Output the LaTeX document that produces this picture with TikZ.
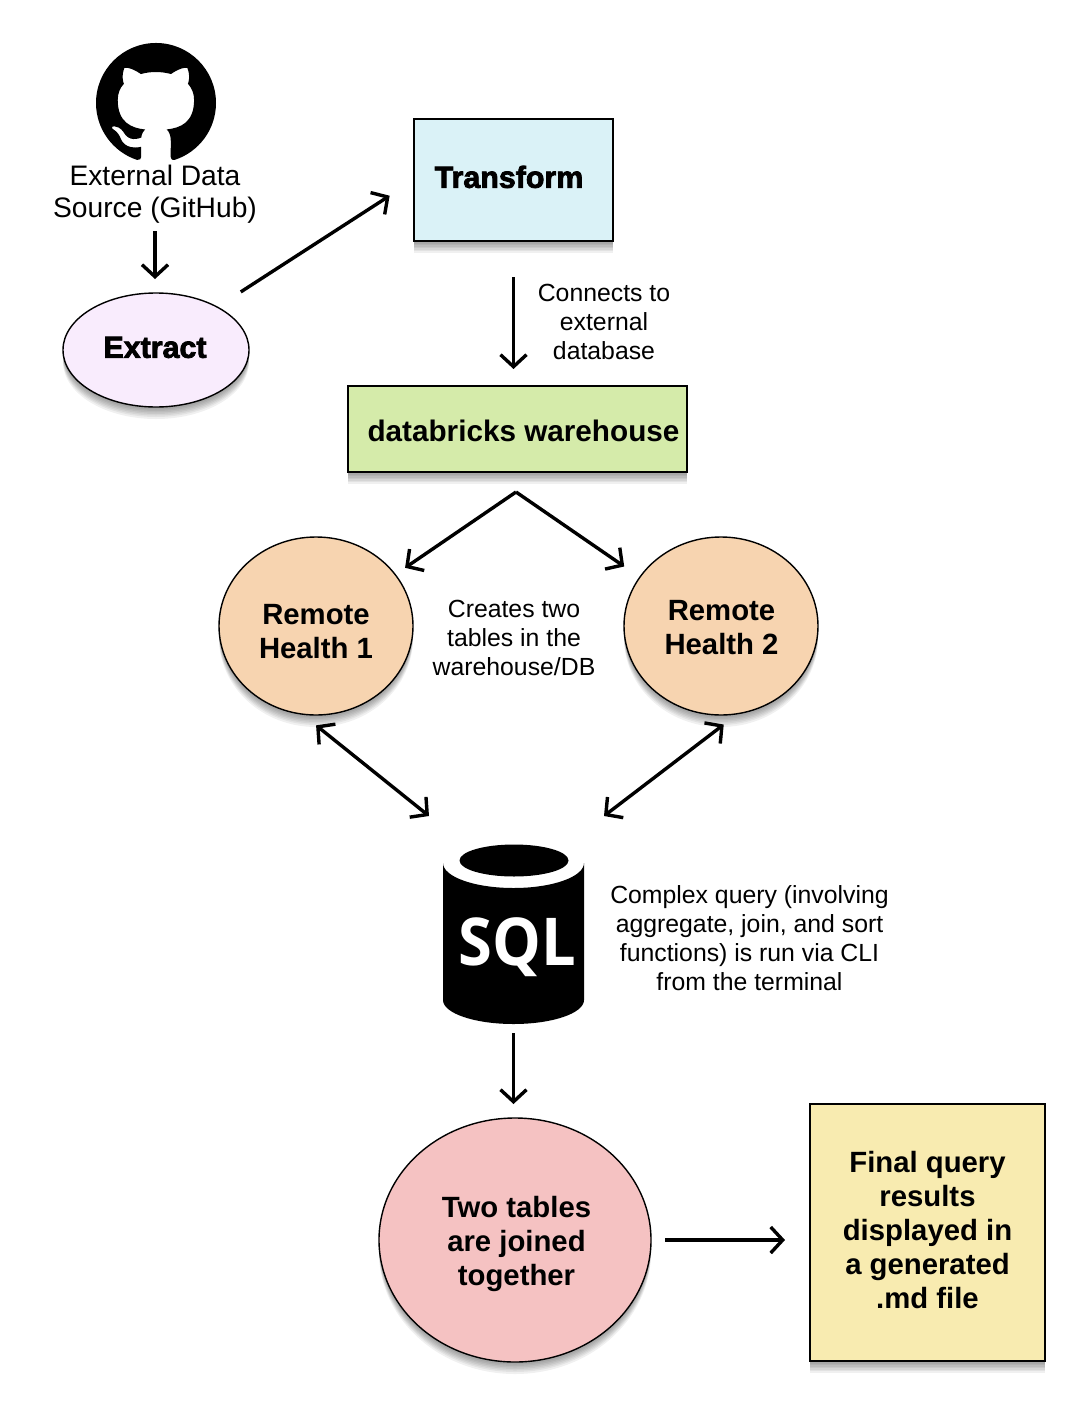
\documentclass[tikz,border=0pt]{standalone}
\usepackage{fontspec}
\setmainfont{Liberation Sans}
\newfontface\sqlfont{Open Sans Bold}[FakeStretch=0.93]
\newfontface\heavyfont{Liberation Sans Bold}[FakeBold=2.6]
\usetikzlibrary{arrows.meta,shapes.geometric,shadows}
\definecolor{cTransform}{HTML}{DAF2F7}
\definecolor{cExtract}{HTML}{F9ECFD}
\definecolor{cDb}{HTML}{D5EBAA}
\definecolor{cHealth}{HTML}{F7D4B0}
\definecolor{cJoin}{HTML}{F5C2C2}
\definecolor{cFinal}{HTML}{F8EBB0}
\newcommand\liftlines[3]{\hspace*{#1pt}\raisebox{0pt}[\dimexpr\height-#2pt\relax][\dimexpr\depth+#2pt\relax]{\begin{tabular}{@{}c@{}}#3\end{tabular}}}
\tikzset{
  softlayer/.style={drop shadow={shadow xshift=0pt,shadow yshift=-#1pt,opacity=.06,fill=black,draw=none}},
  softshadow/.style={softlayer=12,softlayer=10,softlayer=8.5,softlayer=7,softlayer=5.5,softlayer=4,softlayer=2.5},
  boxnode/.style={rectangle,draw=black,line width=1.4pt,outer sep=0pt,inner sep=0pt,align=center,softshadow},
  roundnode/.style={ellipse,draw=black,line width=1.4pt,outer sep=0pt,inner sep=0pt,align=center,softshadow},
  titletext/.style={font=\fontsize{29.3}{34}\selectfont\bfseries},
  heavytext/.style={font=\fontsize{30.4}{34}\heavyfont},
  notetext/.style={font=\fontsize{24.8}{29}\selectfont,align=center,inner sep=0pt,outer sep=0pt},
  conn/.style={line width=3.4pt,-{Straight Barb[length=12pt,width=26pt,line width=3.4pt]}},
  conn2/.style={line width=3.4pt,{Straight Barb[length=12pt,width=26pt,line width=3.4pt]}-{Straight Barb[length=12pt,width=26pt,line width=3.4pt]}},
}
\begin{document}
\begin{tikzpicture}[x=1pt,y=-1pt]
\useasboundingbox (0,0) rectangle (1090,1410);
% GitHub mark
\begin{scope}[shift={(96,41.5)},x=5pt,y=-5pt]
\fill[black] (12,.297) .. controls (5.37,.297) and (0,5.67) .. (0,12.297)
 .. controls (0,17.6) and (3.438,22.097) .. (8.205,23.682)
 .. controls (8.805,23.795) and (9.025,23.424) .. (9.025,23.105)
 .. controls (9.025,22.82) and (9.015,22.065) .. (9.01,21.065)
 .. controls (5.672,21.789) and (4.968,19.455) .. (4.968,19.455)
 .. controls (4.422,18.07) and (3.633,17.7) .. (3.633,17.7)
 .. controls (2.546,16.956) and (3.717,16.971) .. (3.717,16.971)
 .. controls (4.922,17.055) and (5.555,18.207) .. (5.555,18.207)
 .. controls (6.625,20.042) and (8.364,19.512) .. (9.05,19.205)
 .. controls (9.158,18.429) and (9.467,17.9) .. (9.81,17.6)
 .. controls (7.145,17.3) and (4.344,16.268) .. (4.344,11.67)
 .. controls (4.344,10.36) and (4.809,9.29) .. (5.579,8.45)
 .. controls (5.444,8.147) and (5.039,6.927) .. (5.684,5.274)
 .. controls (5.684,5.274) and (6.689,4.952) .. (8.984,6.504)
 .. controls (9.944,6.237) and (10.964,6.105) .. (11.984,6.099)
 .. controls (13.004,6.105) and (14.024,6.237) .. (14.984,6.504)
 .. controls (17.264,4.952) and (18.269,5.274) .. (18.269,5.274)
 .. controls (18.914,6.927) and (18.509,8.147) .. (18.389,8.45)
 .. controls (19.154,9.29) and (19.619,10.36) .. (19.619,11.67)
 .. controls (19.619,16.28) and (16.814,17.295) .. (14.144,17.59)
 .. controls (14.564,17.95) and (14.954,18.686) .. (14.954,19.81)
 .. controls (14.954,21.416) and (14.939,22.706) .. (14.939,23.096)
 .. controls (14.939,23.411) and (15.149,23.786) .. (15.764,23.666)
 .. controls (20.565,22.092) and (24,17.592) .. (24,12.297)
 .. controls (24,5.67) and (18.627,.297) .. (12,.297) -- cycle;
\end{scope}
\node[notetext,font=\fontsize{28.2}{32}\selectfont] (github) at (155,194) {External Data\\Source (GitHub)};
% SQL cylinder
\fill[black] (443,863) arc[start angle=180,end angle=0,x radius=70.5,y radius=25]
  -- (584,1000) arc[start angle=0,end angle=180,x radius=70.5,y radius=24] -- cycle;
\fill[black] (514,860.5) ellipse[x radius=54.5,y radius=16];
\node[text=white,inner sep=0pt,outer sep=0pt,font=\fontsize{66}{70}\sqlfont,minimum width=141pt,minimum height=180pt] (sql) at (513.5,934) {\liftlines{7}{-17}{SQL}};
% boxes
\node[boxnode,fill=cTransform,minimum width=199pt,minimum height=122pt,heavytext] (transform) at (513.5,180) {\liftlines{-9}{-1}{Transform}};
\node[roundnode,fill=cExtract,minimum width=186pt,minimum height=114pt,heavytext] (extract) at (156,350) {\liftlines{-2}{-1}{Extract}};
\node[boxnode,fill=cDb,minimum width=339pt,minimum height=86pt,titletext,font=\fontsize{29.7}{34}\selectfont\bfseries] (db) at (517.5,429) {\liftlines{12}{-6}{databricks warehouse}};
\node[roundnode,fill=cHealth,minimum width=194pt,minimum height=178pt,titletext] (rh1) at (316,626) {\liftlines{0}{-9}{Remote\\Health 1}};
\node[roundnode,fill=cHealth,minimum width=194pt,minimum height=178pt,titletext] (rh2) at (721,626) {\liftlines{1}{-5}{Remote\\Health 2}};
\node[roundnode,fill=cJoin,minimum width=272pt,minimum height=244pt,titletext] (tables) at (515,1240) {\liftlines{3}{-5}{Two tables\\are joined\\together}};
\node[boxnode,fill=cFinal,minimum width=235pt,minimum height=257pt,titletext] (final) at (927.5,1232.5) {\liftlines{0}{-1}{Final query\\results\\displayed in\\a generated\\.md file}};
% notes
\node[notetext] (note1) at (604,322) {Connects to\\external\\database};
\node[notetext] (note2) at (514,638) {Creates two\\tables in the\\warehouse/DB};
\node[notetext] (note3) at (749.5,938) {Complex query (involving\\aggregate, join, and sort\\functions) is run via CLI\\from the terminal};
% connectors
\coordinate (apex) at (516,492);
\coordinate (sqlA) at (429,816);
\coordinate (sqlB) at (604,816);
\draw[conn,shorten <=8pt,shorten >=14pt] (github.south) -- (github.south |- extract.north);
\draw[conn,shorten <=28pt,shorten >=29pt] (extract.35) -- (transform.west);
\draw[conn,shorten <=36pt,shorten >=17pt] (transform.south) -- (transform.south |- db.north);
\draw[conn,shorten >=12pt] (apex) -- (rh1.33.5);
\draw[conn,shorten >=19pt] (apex) -- (rh2.149.3);
\draw[conn2,shorten <=18pt] (rh1.261) -- (sqlA);
\draw[conn2,shorten <=18pt] (rh2.281.5) -- (sqlB);
\draw[conn,shorten <=9pt,shorten >=14pt] (sql.south) -- (sql.south |- tables.north);
\draw[conn,shorten <=14pt,shorten >=25pt] (tables.east) -- (tables.east -| final.west);
\end{tikzpicture}
\end{document}
